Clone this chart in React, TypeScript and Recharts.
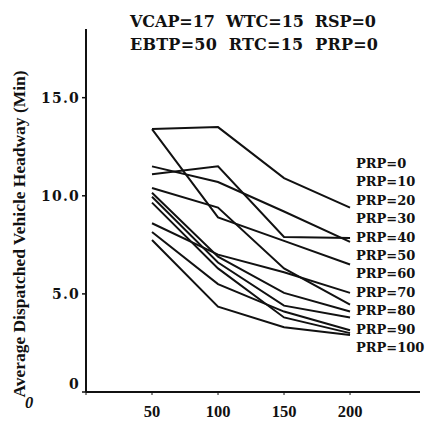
import { Line, LineChart, XAxis, YAxis } from "recharts";

// arrival rate values on the x axis
const xValues = [50, 100, 150, 200];

// headway (min) per PRP setting, read at x = 50, 100, 150, 200
const prp0 = [13.4, 13.5, 10.9, 9.4];
const prp10 = [11.1, 11.5, 7.9, 7.85];
const prp20 = [11.5, 10.7, 9.2, 7.65];
const prp30 = [13.4, 8.9, 7.7, 6.5];
const prp40 = [8.6, 7.0, 6.1, 5.05];
const prp50 = [10.4, 9.4, 6.3, 4.45];
const prp60 = [10.15, 6.9, 5.05, 4.1];
const prp70 = [9.95, 6.6, 4.4, 3.8];
const prp80 = [8.15, 5.5, 4.1, 3.15];
const prp90 = [9.65, 6.3, 3.8, 3.0];
const prp100 = [7.75, 4.35, 3.3, 2.9];

const seriesNames = ["PRP=0", "PRP=10", "PRP=20", "PRP=30", "PRP=40", "PRP=50", "PRP=60", "PRP=70", "PRP=80", "PRP=90", "PRP=100"];
const seriesValues = [prp0, prp10, prp20, prp30, prp40, prp50, prp60, prp70, prp80, prp90, prp100];

const xTicks = [0, 50, 100, 150, 200];
const yTicks = [0, 5, 10, 15];

const titleLine1 = "VCAP=17  WTC=15  RSP=0";
const titleLine2 = "EBTP=50  RTC=15  PRP=0";
const yLabel = "Average Dispatched Vehicle Headway (Min)";

const data = xValues.map((x, i) => {
  const row: Record<string, number> = { x };
  seriesValues.forEach((vals, s) => {
    row["s" + s] = vals[i];
  });
  return row;
});

const serif = "'Liberation Serif', 'Times New Roman', serif";
const wide = "'DejaVu Serif', serif";

function XTick(props: any) {
  const { x, y, payload } = props;
  const isZero = payload.value === 0;
  return (
    <text
      x={isZero ? x - 57 : x}
      y={y + (isZero ? 11 : 20)}
      textAnchor="middle"
      fontFamily={serif}
      fontWeight="bold"
      fontStyle={isZero ? "italic" : "normal"}
      fontSize={16.5}
      fill="#111"
    >
      {payload.value}
    </text>
  );
}

function YTick(props: any) {
  const { x, y, payload } = props;
  const v = payload.value;
  return (
    <text
      x={x}
      y={v === 0 ? y - 3 : y + 5}
      textAnchor="end"
      fontFamily={wide}
      fontWeight="bold"
      fontSize={14}
      letterSpacing={1.2}
      fill="#111"
    >
      {v === 0 ? "0" : v.toFixed(1)}
    </text>
  );
}

export default function App() {
  return (
    <div style={{ position: "absolute", left: 0, top: 0, width: 433, height: 428, background: "#fff" }}>
      <LineChart width={433} height={428} data={data} margin={{ top: 29, right: 13, bottom: 0, left: 0 }}>
        <XAxis
          dataKey="x"
          type="number"
          domain={[0, 253]}
          ticks={xTicks}
          height={36}
          tickSize={3}
          tickMargin={2}
          axisLine={{ stroke: "#111", strokeWidth: 2 }}
          tickLine={{ stroke: "#111" }}
          tick={<XTick />}
        />
        <YAxis
          type="number"
          domain={[0, 18.5]}
          ticks={yTicks}
          width={86}
          tickSize={4}
          tickMargin={2}
          axisLine={{ stroke: "#111", strokeWidth: 2 }}
          tickLine={{ stroke: "#111", strokeWidth: 1.5 }}
          tick={<YTick />}
        />
        {seriesNames.map((name, s) => (
          <Line
            key={name}
            name={name}
            dataKey={"s" + s}
            stroke="#111"
            strokeWidth={2}
            dot={false}
            type="linear"
            isAnimationActive={false}
          />
        ))}
      </LineChart>
      <svg width={433} height={428} style={{ position: "absolute", left: 0, top: 0, pointerEvents: "none" }}>
        <g fontWeight="bold" fill="#111">
          <text x={130} y={27} fontFamily={wide} fontSize={16} textLength={246} lengthAdjust="spacing" style={{ whiteSpace: "pre" }}>
            {titleLine1}
          </text>
          <text x={130} y={50} fontFamily={wide} fontSize={16} textLength={248} lengthAdjust="spacing" style={{ whiteSpace: "pre" }}>
            {titleLine2}
          </text>
          {seriesNames.map((name, i) => (
            <text key={name} x={356} y={168 + i * 18.4} fontFamily={wide} fontSize={13}>
              {name}
            </text>
          ))}
          <text
            transform="translate(25,234) rotate(-90)"
            textAnchor="middle"
            fontFamily={serif}
            fontSize={16}
            textLength={327}
            lengthAdjust="spacingAndGlyphs"
          >
            {yLabel}
          </text>
        </g>
      </svg>
    </div>
  );
}
